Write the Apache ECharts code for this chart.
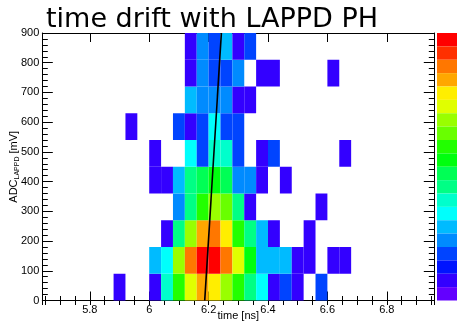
<!DOCTYPE html>
<html>
<head>
<meta charset="utf-8">
<script src="https://cdn.jsdelivr.net/npm/echarts@6/dist/echarts.min.js"></script>
<style>
html, body { margin: 0; padding: 0; background: #fff; }
#chart { width: 457px; height: 324px; }
</style>
</head>
<body>
<div id="chart"></div>
<script>
// time bins (lower edges, ns) and ADC bins (lower edges, mV)
const timeBinStart = [5.64, 5.68, 5.72, 5.76, 5.80, 5.84, 5.88, 5.92, 5.96, 6.00, 6.04,
    6.08, 6.12, 6.16, 6.20, 6.24, 6.28, 6.32, 6.36, 6.40, 6.44, 6.48, 6.52, 6.56, 6.60,
    6.64, 6.68, 6.72, 6.76, 6.80, 6.84, 6.88, 6.92];
const timeBinWidth = 0.04;
const adcBinStart = [0, 90, 180, 270, 360, 450, 540, 630, 720, 810];
const adcBinWidth = 90;

// entries per cell, one row per ADC bin (bottom -> top), one column per time bin
const counts = [
    [0,0,0,0,0,0,1,0,0,1,7,11,14,16,15,13,11,8,6,1,3,1,0,3,0,0,0,0,0,0,0,0,0],
    [0,0,0,0,0,0,0,0,0,5,6,13,17,19,20,17,14,10,5,5,5,1,1,0,1,1,0,0,0,0,0,0,0],
    [0,0,0,0,0,0,0,0,0,0,1,8,13,16,17,15,11,8,5,1,0,0,1,0,0,0,0,0,0,0,0,0,0],
    [0,0,0,0,0,0,0,0,0,0,0,4,8,11,13,12,8,1,0,0,0,0,0,1,0,0,0,0,0,0,0,0,0],
    [0,0,0,0,0,0,0,0,0,1,1,5,8,9,10,9,4,4,1,0,1,0,0,0,0,0,0,0,0,0,0,0,0],
    [0,0,0,0,0,0,0,0,0,1,0,0,6,3,7,7,3,0,1,3,0,0,0,0,0,1,0,0,0,0,0,0,0],
    [0,0,0,0,0,0,0,1,0,0,0,3,1,3,6,3,3,0,0,0,0,0,0,0,0,0,0,0,0,0,0,0,0],
    [0,0,0,0,0,0,0,0,0,0,0,0,5,4,4,4,1,1,0,0,0,0,0,0,0,0,0,0,0,0,0,0,0],
    [0,0,0,0,0,0,0,0,0,0,0,0,1,4,3,3,4,0,1,1,0,0,0,0,1,0,0,0,0,0,0,0,0],
    [0,0,0,0,0,0,0,0,0,0,0,0,1,4,3,5,1,3,0,0,0,0,0,0,0,0,0,0,0,0,0,0,0]
];
const zMax = 20;

// linear fit drawn over the histogram
const fitTime = [6.187, 6.243];
const fitAdc = [0, 900];

// ROOT "pretty" palette, 20 contour levels
const paletteColors = ['#6300ff', '#3300ff', '#0014ff', '#0044ff', '#008bff', '#00bbff',
    '#00fffc', '#00ffcc', '#00ff85', '#00ff55', '#00ff0e', '#22ff00', '#69ff00', '#99ff00',
    '#e0ff00', '#ffee00', '#ffa700', '#ff7700', '#ff3000', '#ff0000'];

const FONT = 'Liberation Sans';

const cells = [];
counts.forEach((row, j) => {
    row.forEach((c, i) => {
        if (c > 0) {
            cells.push([timeBinStart[i], timeBinStart[i] + timeBinWidth,
                adcBinStart[j], adcBinStart[j] + adcBinWidth, c]);
        }
    });
});

const pieces = paletteColors.map((color, k) =>
    k === paletteColors.length - 1 ? {gte: k, lte: zMax, color} : {gte: k, lt: k + 1, color});

const xMin = timeBinStart[0];
const xMax = timeBinStart[timeBinStart.length - 1] + timeBinWidth;
const yMin = adcBinStart[0];
const yMax = adcBinStart[adcBinStart.length - 1] + adcBinWidth;

const blackLine = {show: true, onZero: false, lineStyle: {color: '#000', width: 1}};
const labelStyle = {color: '#000', fontSize: 11, fontFamily: FONT};

function majorX(position, withLabels) {
    return {
        type: 'value', position, min: xMin, max: xMax, splitNumber: 7,
        axisLine: blackLine,
        axisTick: {inside: true, length: 9, lineStyle: {color: '#000'}},
        axisLabel: withLabels
            ? Object.assign({showMinLabel: false, showMaxLabel: false, margin: 4}, labelStyle)
            : {show: false},
        splitLine: {show: false}
    };
}
function minorX(position) {
    return {
        type: 'value', position, min: xMin, max: xMax, splitNumber: 26,
        axisLine: {show: false},
        axisTick: {inside: true, length: 4.5, lineStyle: {color: '#000'}},
        axisLabel: {show: false},
        splitLine: {show: false}
    };
}
function frameY(position, withLabels) {
    return {
        type: 'value', position, min: yMin, max: yMax, interval: 100,
        axisLine: blackLine,
        axisTick: {inside: true, length: 10.5, lineStyle: {color: '#000'}},
        minorTick: {show: true, splitNumber: 5, length: 5.5, lineStyle: {color: '#000'}},
        axisLabel: withLabels ? Object.assign({margin: 3}, labelStyle) : {show: false},
        splitLine: {show: false}
    };
}

const xBottom = majorX('bottom', true);
xBottom.name = 'time [ns]';
xBottom.nameLocation = 'middle';
xBottom.nameGap = 10;
xBottom.nameMoveOverlap = false;
xBottom.nameTextStyle = {color: '#000', fontSize: 11, fontFamily: FONT};

const yLeft = frameY('left', true);
yLeft.name = '{n|ADC}{s|LAPPD}{n| [mV]}';
yLeft.nameLocation = 'middle';
yLeft.nameGap = 22;
yLeft.nameMoveOverlap = false;
yLeft.nameTextStyle = {
    color: '#000', fontFamily: FONT,
    rich: {
        n: {fontSize: 11, fontFamily: FONT, color: '#000', lineHeight: 13, verticalAlign: 'middle'},
        s: {fontSize: 7, fontFamily: FONT, color: '#000', lineHeight: 13, verticalAlign: 'bottom'}
    }
};

const chart = echarts.init(document.getElementById('chart'), null, {renderer: 'canvas'});
chart.setOption({
    animation: false,
    backgroundColor: '#fff',
    title: {
        text: 'time drift with LAPPD PH',
        left: 46, top: 6.5, padding: 0,
        textStyle: {fontFamily: 'DejaVu Sans', fontSize: 27, fontWeight: 'normal', color: '#000'}
    },
    grid: {left: 42.3, right: 22.7, top: 33, bottom: 23.5, containLabel: false, outerBoundsMode: 'none'},
    xAxis: [xBottom, minorX('bottom'), majorX('top', false), minorX('top')],
    yAxis: [yLeft, frameY('right', false)],
    visualMap: {
        type: 'piecewise',
        seriesIndex: 0,
        dimension: 4,
        pieces: pieces,
        orient: 'vertical',
        left: 437, top: 33,
        itemWidth: 20, itemHeight: 13.375, itemGap: 0,
        padding: 0,
        showLabel: false,
        itemSymbol: 'rect',
        hoverLink: false,
        selectedMode: false
    },
    series: [
        {
            type: 'custom',
            xAxisIndex: 0, yAxisIndex: 0,
            encode: {x: [0, 1], y: [2, 3]},
            data: cells,
            renderItem: (params, api) => {
                const p0 = api.coord([api.value(0), api.value(2)]);
                const p1 = api.coord([api.value(1), api.value(3)]);
                return {
                    type: 'rect',
                    shape: {x: p0[0], y: p1[1], width: p1[0] - p0[0], height: p0[1] - p1[1]},
                    style: {fill: api.visual('color')}
                };
            }
        },
        {
            type: 'line',
            xAxisIndex: 0, yAxisIndex: 0,
            data: fitTime.map((t, i) => [t, fitAdc[i]]),
            showSymbol: false,
            lineStyle: {color: '#000', width: 1.6}
        }
    ]
});
</script>
</body>
</html>
